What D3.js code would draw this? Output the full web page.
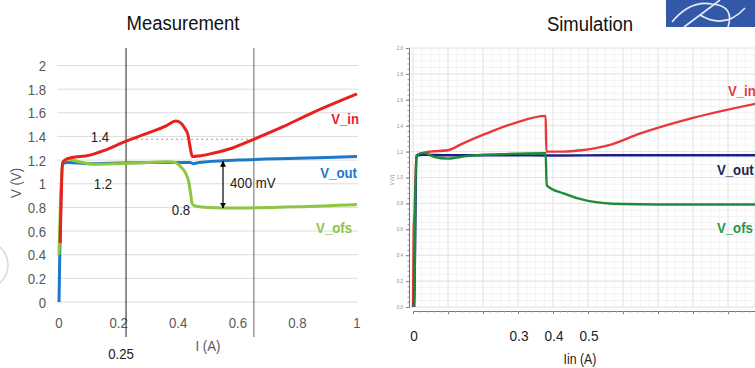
<!DOCTYPE html>
<html>
<head>
<meta charset="utf-8">
<script src="https://cdn.jsdelivr.net/npm/d3@7"></script>
<style>
  html, body { margin: 0; padding: 0; background: #fff; }
  svg { display: block; font-family: "Liberation Sans", Arial, sans-serif; }
</style>
</head>
<body>
<svg id="chart" width="755" height="368"></svg>
<script>
// ---- measurement data (I in A, V in V) ----
const measTicksX = [0, 0.2, 0.4, 0.6, 0.8, 1];
const measTicksY = [0, 0.2, 0.4, 0.6, 0.8, 1, 1.2, 1.4, 1.6, 1.8, 2];
const measVin = [[0.004,0.5],[0.012,1.17],[0.02,1.2],[0.04,1.22],[0.1,1.24],[0.15,1.28],[0.225,1.36],[0.3,1.43],[0.36,1.49],[0.392,1.53],[0.408,1.515],[0.422,1.47],[0.433,1.41],[0.44,1.31],[0.447,1.23],[0.47,1.235],[0.52,1.26],[0.58,1.3],[0.654,1.376],[0.75,1.48],[0.85,1.6],[1.0,1.76]];
const measVout = [[0,0],[0.003,0.45],[0.012,1.17],[0.03,1.18],[0.1,1.17],[0.2,1.175],[0.3,1.18],[0.4,1.18],[0.44,1.18],[0.45,1.17],[0.47,1.18],[0.6,1.2],[0.8,1.215],[1.0,1.23]];
const measVofs = [[0,0.4],[0.012,1.18],[0.03,1.21],[0.06,1.19],[0.12,1.165],[0.2,1.17],[0.3,1.18],[0.37,1.185],[0.39,1.18],[0.41,1.14],[0.425,1.09],[0.435,1.02],[0.441,0.93],[0.447,0.83],[0.46,0.81],[0.5,0.8],[0.6,0.795],[0.8,0.805],[1.0,0.825]];
const measMarkers = [0.225, 0.654];   // vertical guide lines
const measRef = 1.376;                // dotted level line

// ---- simulation data ----
const simLabelsX = [0, 0.3, 0.4, 0.5];
const simTicksY = [0, 0.2, 0.4, 0.6, 0.8, 1, 1.2, 1.4, 1.6, 1.8, 2];
const simVin = [[0,0],[0.002,0.6],[0.004,0.7],[0.01,1.17],[0.03,1.19],[0.05,1.2],[0.1,1.21],[0.14,1.26],[0.21,1.34],[0.29,1.42],[0.379,1.476],[0.381,1.2],[0.43,1.2],[0.48,1.21],[0.56,1.25],[0.65,1.34],[0.8,1.46],[0.98,1.57]];
const simVout = [[0.002,0],[0.004,0.12],[0.01,1.17],[0.03,1.175],[0.1,1.172],[0.3,1.172],[0.38,1.17],[0.6,1.172],[0.98,1.172]];
const simVofs = [[0.004,0],[0.006,0.7],[0.01,1.17],[0.03,1.19],[0.06,1.16],[0.1,1.146],[0.15,1.165],[0.25,1.18],[0.379,1.187],[0.382,0.94],[0.43,0.877],[0.5,0.82],[0.6,0.795],[0.7,0.792],[0.98,0.792]];

const svg = d3.select("#chart");
const SQ = 0.88; // the slide text looks horizontally squeezed

function label(g, x, y, str, opts = {}) {
  return g.append("text")
    .attr("transform", `translate(${x},${y}) scale(${SQ},1)`)
    .attr("text-anchor", opts.anchor || "start")
    .attr("font-size", opts.size || 15)
    .attr("font-weight", opts.bold ? "bold" : null)
    .attr("fill", opts.fill || "#222")
    .text(str);
}

// faint logo arc on the far left
svg.append("circle").attr("cx", -16).attr("cy", 265).attr("r", 24)
  .attr("fill", "none").attr("stroke", "#d3dae4").attr("stroke-width", 1.5);

// ================= Measurement =================
const mx = d3.scaleLinear().domain([0, 1]).range([59, 357]);
const my = d3.scaleLinear().domain([0, 2]).range([302, 65.5]);
const m = svg.append("g");

label(m, 183, 30, "Measurement", { anchor: "middle", size: 21, fill: "#111" });

m.selectAll(".grid").data(measTicksY).join("line")
  .attr("x1", 57).attr("x2", 358)
  .attr("y1", d => my(d)).attr("y2", d => my(d))
  .attr("stroke", "#dcdcdc").attr("stroke-width", 1);

measTicksY.forEach(d => label(m, 46, my(d) + 5.5, d3.format("~g")(d), { anchor: "end", fill: "#595959" }));
measTicksX.forEach(d => label(m, mx(d), 328, d3.format("~g")(d), { anchor: "middle", fill: "#595959" }));

m.append("text").attr("transform", `translate(21,183) rotate(-90) scale(${SQ},1)`)
  .attr("text-anchor", "middle").attr("font-size", 15).attr("fill", "#595959").text("V (V)");
label(m, 208, 351, "I (A)", { anchor: "middle", fill: "#595959" });

m.selectAll(".vmark").data(measMarkers).join("line")
  .attr("x1", d => mx(d)).attr("x2", d => mx(d)).attr("y1", 48).attr("y2", 337)
  .attr("stroke", (d, i) => i === 0 ? "#222" : "#666").attr("stroke-width", 1);

m.append("line").attr("x1", mx(measMarkers[0])).attr("x2", mx(measMarkers[1]))
  .attr("y1", my(measRef)).attr("y2", my(measRef))
  .attr("stroke", "#999").attr("stroke-dasharray", "2,3").attr("stroke-width", 1);

const mline = d3.line().x(d => mx(d[0])).y(d => my(d[1])).curve(d3.curveMonotoneX);
[[measVout, "#1f77c9"], [measVofs, "#8dc63f"], [measVin, "#e8211d"]].forEach(([data, c]) => {
  m.append("path").datum(data).attr("d", mline)
    .attr("fill", "none").attr("stroke", c).attr("stroke-width", 3)
    .attr("stroke-linejoin", "round");
});

// 400 mV double arrow
const ax = 223;
m.append("defs").html(
  '<marker id="ah" viewBox="0 0 10 10" refX="9" refY="5" markerWidth="5" markerHeight="5" orient="auto-start-reverse"><path d="M0,0L10,5L0,10z" fill="#000"/></marker>');
m.append("line").attr("x1", ax).attr("x2", ax).attr("y1", my(1.19)).attr("y2", my(0.795))
  .attr("stroke", "#000").attr("stroke-width", 1.2)
  .attr("marker-start", "url(#ah)").attr("marker-end", "url(#ah)");

label(m, 230, 188, "400 mV");
label(m, 100, 142, "1.4", { anchor: "middle" });
label(m, 103, 189, "1.2", { anchor: "middle" });
label(m, 181, 215, "0.8", { anchor: "middle" });
label(m, 121, 359, "0.25", { anchor: "middle" });

label(m, 359, 124, "V_in", { anchor: "end", bold: true, fill: "#e8211d" });
label(m, 357, 178, "V_out", { anchor: "end", bold: true, fill: "#1f77c9" });
label(m, 352, 233, "V_ofs", { anchor: "end", bold: true, fill: "#8dc63f" });

// ================= Simulation =================
const sx = d3.scaleLinear().domain([0, 1]).range([413, 763]);
const sy = d3.scaleLinear().domain([0, 2]).range([307, 48]);
const s = svg.append("g");

label(s, 590, 31, "Simulation", { anchor: "middle", size: 21, fill: "#111" });

// logo box
const logo = s.append("g");
logo.append("rect").attr("x", 666).attr("y", 0).attr("width", 89).attr("height", 27).attr("fill", "#3358a8");
logo.append("path").attr("d", "M672,22 Q690,0 712,4 M684,27 L720,0 M700,15 Q725,30 745,8 M712,4 Q735,6 728,27")
  .attr("fill", "none").attr("stroke", "#e6ecf6").attr("stroke-width", 1.6);

const sp = s.append("g");

// minor grid
sp.selectAll(".mgy").data(d3.range(0, 2.001, 0.05)).join("line")
  .attr("x1", 408).attr("x2", 755).attr("y1", d => sy(d)).attr("y2", d => sy(d))
  .attr("stroke", "#f3f3f3");
sp.selectAll(".mgx").data(d3.range(0, 1.001, 0.025)).join("line")
  .attr("x1", d => sx(d)).attr("x2", d => sx(d)).attr("y1", 48).attr("y2", 307)
  .attr("stroke", "#f3f3f3");
// major grid
sp.selectAll(".gy").data(simTicksY).join("line")
  .attr("x1", 408).attr("x2", 755).attr("y1", d => sy(d)).attr("y2", d => sy(d))
  .attr("stroke", "#e6e6e6");
sp.selectAll(".gx").data(d3.range(0, 1.001, 0.1)).join("line")
  .attr("x1", d => sx(d)).attr("x2", d => sx(d)).attr("y1", 48).attr("y2", 307)
  .attr("stroke", "#e6e6e6");

// y axis
const yAxis = d3.axisLeft(sy).tickValues(simTicksY).tickSize(3).tickFormat(d3.format(".1f"));
const ya = sp.append("g").attr("transform", "translate(409,0)").call(yAxis);
ya.select(".domain").attr("stroke", "#777");
ya.selectAll("line").attr("stroke", "#777");
ya.selectAll("text").attr("font-size", 4.5).attr("fill", "#888");
sp.append("g").attr("transform", "translate(409,0)")
  .call(d3.axisLeft(sy).tickValues(d3.range(0, 2.001, 0.04)).tickSize(1.5).tickFormat(""))
  .call(g => g.select(".domain").remove())
  .selectAll("line").attr("stroke", "#999");
sp.append("text").attr("transform", "translate(394,180) rotate(-90)").attr("text-anchor", "middle")
  .attr("font-size", 4.5).attr("fill", "#888").text("V (V)");

// x axis
const xa = sp.append("g").attr("transform", "translate(0,311)")
  .call(d3.axisBottom(sx).tickValues(d3.range(0, 1.001, 0.1)).tickSize(3).tickFormat(""));
xa.select(".domain").attr("stroke", "#777");
xa.selectAll("line").attr("stroke", "#777");
sp.append("g").attr("transform", "translate(0,311)")
  .call(d3.axisBottom(sx).tickValues(d3.range(0, 1.001, 0.02)).tickSize(1.5).tickFormat(""))
  .call(g => g.select(".domain").remove())
  .selectAll("line").attr("stroke", "#999");

simLabelsX.forEach(d => label(sp, sx(d) + 1, 341, d3.format("~g")(d), { anchor: "middle", size: 15.5 }));
label(sp, 580, 364, "Iin (A)", { anchor: "middle", size: 14 });

const sline = d3.line().x(d => sx(d[0])).y(d => sy(d[1])).curve(d3.curveMonotoneX);
[[simVin, "#e8393b"], [simVout, "#1c1f8a"], [simVofs, "#1e8b3a"]].forEach(([data, c]) => {
  sp.append("path").datum(data).attr("d", sline)
    .attr("fill", "none").attr("stroke", c).attr("stroke-width", 2.4)
    .attr("stroke-linejoin", "round");
});

label(s, 728, 96, "V_in", { bold: true, fill: "#e8393b" });
label(s, 717, 175, "V_out", { bold: true, fill: "#1a2550" });
label(s, 717, 233, "V_ofs", { bold: true, fill: "#23994a" });
</script>
</body>
</html>
